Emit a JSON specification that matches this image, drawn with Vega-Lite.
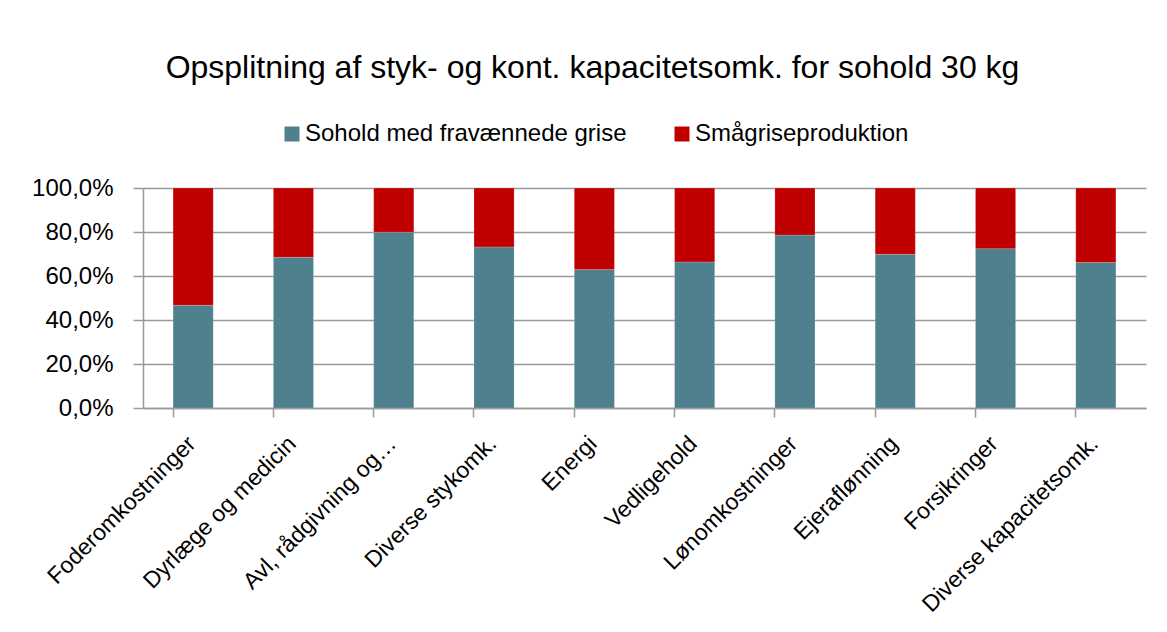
{
  "$schema": "https://vega.github.io/schema/vega-lite/v6.json",
  "width": 1003,
  "height": 220,
  "autosize": "none",
  "padding": {"left": 143, "top": 188, "right": 21, "bottom": 224},
  "background": "white",
  "title": {
    "text": "Opsplitning af styk- og kont. kapacitetsomk. for sohold 30 kg",
    "font": "Liberation Sans",
    "fontSize": 32,
    "fontWeight": "normal",
    "color": "#000000",
    "anchor": "middle",
    "dx": -52,
    "offset": 37
  },
  "data": {
    "values": [
      {"kategori": "Foderomkostninger", "serie": "Sohold med fravænnede grise", "andel": 0.467, "rk": 1},
      {"kategori": "Foderomkostninger", "serie": "Smågriseproduktion", "andel": 0.533, "rk": 2},
      {"kategori": "Dyrlæge og medicin", "serie": "Sohold med fravænnede grise", "andel": 0.685, "rk": 1},
      {"kategori": "Dyrlæge og medicin", "serie": "Smågriseproduktion", "andel": 0.315, "rk": 2},
      {"kategori": "Avl, rådgivning og…", "serie": "Sohold med fravænnede grise", "andel": 0.799, "rk": 1},
      {"kategori": "Avl, rådgivning og…", "serie": "Smågriseproduktion", "andel": 0.201, "rk": 2},
      {"kategori": "Diverse stykomk.", "serie": "Sohold med fravænnede grise", "andel": 0.732, "rk": 1},
      {"kategori": "Diverse stykomk.", "serie": "Smågriseproduktion", "andel": 0.268, "rk": 2},
      {"kategori": "Energi", "serie": "Sohold med fravænnede grise", "andel": 0.629, "rk": 1},
      {"kategori": "Energi", "serie": "Smågriseproduktion", "andel": 0.371, "rk": 2},
      {"kategori": "Vedligehold", "serie": "Sohold med fravænnede grise", "andel": 0.664, "rk": 1},
      {"kategori": "Vedligehold", "serie": "Smågriseproduktion", "andel": 0.336, "rk": 2},
      {"kategori": "Lønomkostninger", "serie": "Sohold med fravænnede grise", "andel": 0.786, "rk": 1},
      {"kategori": "Lønomkostninger", "serie": "Smågriseproduktion", "andel": 0.214, "rk": 2},
      {"kategori": "Ejeraflønning", "serie": "Sohold med fravænnede grise", "andel": 0.699, "rk": 1},
      {"kategori": "Ejeraflønning", "serie": "Smågriseproduktion", "andel": 0.301, "rk": 2},
      {"kategori": "Forsikringer", "serie": "Sohold med fravænnede grise", "andel": 0.724, "rk": 1},
      {"kategori": "Forsikringer", "serie": "Smågriseproduktion", "andel": 0.276, "rk": 2},
      {"kategori": "Diverse kapacitetsomk.", "serie": "Sohold med fravænnede grise", "andel": 0.661, "rk": 1},
      {"kategori": "Diverse kapacitetsomk.", "serie": "Smågriseproduktion", "andel": 0.339, "rk": 2}
    ]
  },
  "mark": {"type": "bar", "stroke": "#ffffff", "strokeOpacity": 0.35, "strokeWidth": 0.5},
  "encoding": {
    "x": {
      "field": "kategori",
      "type": "nominal",
      "sort": null,
      "scale": {"paddingInner": 0.6, "paddingOuter": 0.3},
      "axis": {
        "title": null,
        "labelAngle": -45,
        "labelFont": "Liberation Sans",
        "labelFontSize": 23,
        "labelColor": "#000000",
        "labelPadding": 15,
        "labelOffset": -9,
        "labelLimit": 300,
        "bandPosition": 0,
        "ticks": true,
        "tickSize": 9,
        "tickColor": "#999999",
        "tickWidth": 1.5,
        "domainColor": "#999999",
        "domainWidth": 1.5,
        "grid": false
      }
    },
    "y": {
      "field": "andel",
      "type": "quantitative",
      "stack": "zero",
      "scale": {"domain": [0, 1]},
      "axis": {
        "title": null,
        "values": [0, 0.2, 0.4, 0.6, 0.8, 1],
        "labelExpr": "replace(format(datum.value, '.1%'), '.', ',')",
        "labelFont": "Liberation Sans",
        "labelFontSize": 24,
        "labelColor": "#000000",
        "labelPadding": 20,
        "tickSize": 10,
        "tickColor": "#999999",
        "tickWidth": 1.5,
        "domainColor": "#999999",
        "domainWidth": 1.5,
        "grid": true,
        "gridColor": "#999999",
        "gridWidth": 1.5
      }
    },
    "color": {
      "field": "serie",
      "type": "nominal",
      "sort": ["Sohold med fravænnede grise", "Smågriseproduktion"],
      "scale": {
        "domain": ["Sohold med fravænnede grise", "Smågriseproduktion"],
        "range": ["#4F808E", "#C00000"]
      },
      "legend": {
        "title": null,
        "orient": "none",
        "direction": "horizontal",
        "legendX": 137,
        "legendY": -66,
        "symbolType": "square",
        "symbolSize": 225,
        "symbolStrokeWidth": 0,
        "labelFont": "Liberation Sans",
        "labelFontSize": 24,
        "labelColor": "#000000",
        "labelLimit": 400,
        "columnPadding": 43,
        "labelOffset": 1
      }
    },
    "order": {"field": "rk", "type": "quantitative"}
  },
  "config": {
    "view": {"stroke": null}
  }
}
